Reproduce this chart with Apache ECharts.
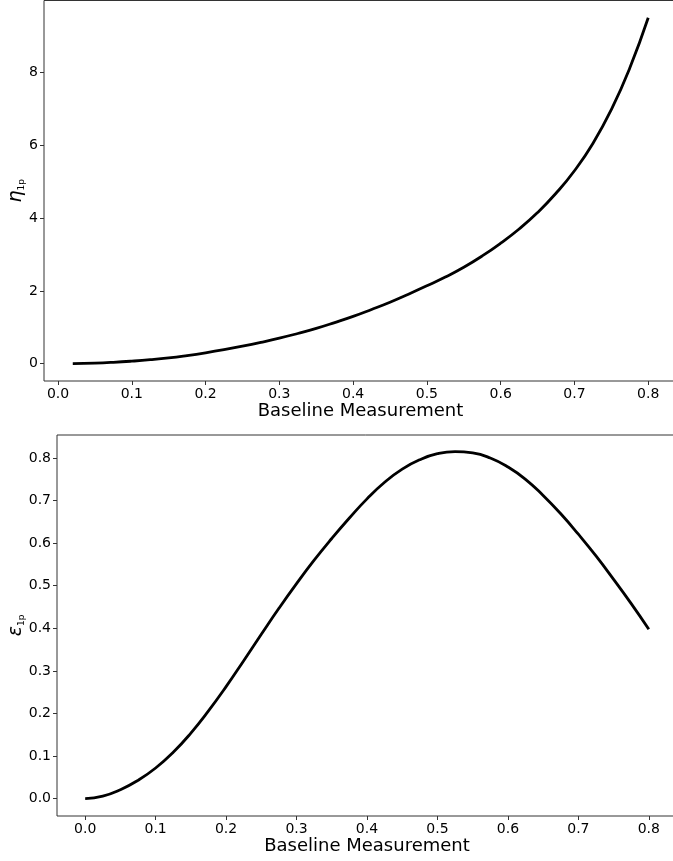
<!DOCTYPE html>
<html>
<head>
<meta charset="utf-8">
<script src="https://cdn.jsdelivr.net/npm/echarts@6/dist/echarts.min.js"></script>
<style>
  html, body { margin: 0; padding: 0; background: #fff; }
  #chart { width: 673px; height: 861px; }
</style>
</head>
<body>
<div id="chart"></div>
<script>
// Baseline measurement grid for the efficiency curve (upper panel)
const etaX = [0.020, 0.050, 0.075, 0.100, 0.125, 0.150, 0.175, 0.200, 0.225, 0.250, 0.275, 0.300,
              0.325, 0.350, 0.375, 0.400, 0.425, 0.450, 0.475, 0.500, 0.525, 0.550, 0.575, 0.600,
              0.625, 0.650, 0.675, 0.700, 0.725, 0.750, 0.775, 0.800];
const etaY = [0.000, 0.015, 0.038, 0.070, 0.110, 0.160, 0.225, 0.300, 0.385, 0.480, 0.585, 0.700,
              0.830, 0.970, 1.130, 1.300, 1.490, 1.690, 1.910, 2.140, 2.380, 2.650, 2.960, 3.310,
              3.700, 4.150, 4.680, 5.300, 6.050, 6.980, 8.120, 9.500];

// Baseline measurement grid for the epsilon curve (lower panel)
const epsX = [0.000, 0.025, 0.050, 0.075, 0.100, 0.125, 0.150, 0.175, 0.200, 0.225, 0.250, 0.275, 0.300,
              0.325, 0.350, 0.375, 0.400, 0.425, 0.450, 0.475, 0.500, 0.525, 0.550, 0.575, 0.600, 0.625,
              0.650, 0.675, 0.700, 0.725, 0.750, 0.775, 0.800];
const epsY = [0.000, 0.006, 0.021, 0.043, 0.072, 0.109, 0.154, 0.206, 0.263, 0.324, 0.386, 0.447, 0.505,
              0.560, 0.611, 0.659, 0.704, 0.743, 0.774, 0.796, 0.810, 0.815, 0.812, 0.800, 0.779, 0.750,
              0.712, 0.669, 0.621, 0.570, 0.515, 0.458, 0.398];

// Tick labels
const xTicks = [0.0, 0.1, 0.2, 0.3, 0.4, 0.5, 0.6, 0.7, 0.8];
const etaTicks = [0, 2, 4, 6, 8];
const epsTicks = [0.0, 0.1, 0.2, 0.3, 0.4, 0.5, 0.6, 0.7, 0.8];

const FONT = 'DejaVu Sans';
const SPINE = '#333';

function pairs(xs, ys) { return xs.map((x, i) => [x, ys[i]]); }

function xAxisCfg(gridIndex, min, max) {
  return {
    type: 'value', gridIndex, min, max, position: 'bottom',
    name: 'Baseline Measurement', nameLocation: 'middle', nameGap: 21, nameMoveOverlap: false,
    nameTextStyle: { fontFamily: FONT, fontSize: 18, color: '#000' },
    axisLine: { show: false, onZero: false },
    axisTick: { show: true, length: 4, lineStyle: { color: SPINE }, customValues: xTicks },
    axisLabel: { fontFamily: FONT, fontSize: 14, color: '#000', margin: 6,
                 customValues: xTicks, formatter: v => v.toFixed(1) },
    splitLine: { show: false }
  };
}

function yAxisCfg(gridIndex, min, max, ticks, fmt, name, gap) {
  return {
    type: 'value', gridIndex, min, max, position: 'left',
    name, nameLocation: 'middle', nameGap: gap, nameRotate: 90, nameMoveOverlap: false,
    nameTextStyle: {
      fontFamily: FONT, color: '#000',
      rich: {
        a: { fontFamily: FONT, fontSize: 19, fontStyle: 'italic', color: '#000' },
        b: { fontFamily: FONT, fontSize: 9, color: '#000', verticalAlign: 'bottom', padding: [10, 0, 0, 0] }
      }
    },
    axisLine: { show: false, onZero: false },
    axisTick: { show: true, length: 4, lineStyle: { color: SPINE }, customValues: ticks },
    axisLabel: { fontFamily: FONT, fontSize: 14, color: '#000', margin: 6,
                 customValues: ticks, formatter: fmt },
    splitLine: { show: false }
  };
}

const chart = echarts.init(document.getElementById('chart'), null, { renderer: 'canvas' });
chart.setOption({
  animation: false,
  backgroundColor: '#fff',
  grid: [
    { left: 44, top: 0.5, width: 633, height: 380.5, show: true, borderColor: SPINE, borderWidth: 1,
      backgroundColor: 'transparent', containLabel: false, outerBoundsMode: 'none' },
    { left: 57, top: 435, width: 620, height: 381, show: true, borderColor: SPINE, borderWidth: 1,
      backgroundColor: 'transparent', containLabel: false, outerBoundsMode: 'none' }
  ],
  xAxis: [
    xAxisCfg(0, -0.019, 0.839),
    xAxisCfg(1, -0.04, 0.84)
  ],
  yAxis: [
    yAxisCfg(0, -0.475, 9.975, etaTicks, v => String(v), '{a|η}{b|1p}', 18),
    yAxisCfg(1, -0.0407, 0.854, epsTicks, v => v.toFixed(1), '{a|ε}{b|1p}', 31)
  ],
  series: [
    { type: 'line', xAxisIndex: 0, yAxisIndex: 0, data: pairs(etaX, etaY), smooth: true,
      showSymbol: false, lineStyle: { color: '#000', width: 2.8 } },
    { type: 'line', xAxisIndex: 1, yAxisIndex: 1, data: pairs(epsX, epsY), smooth: true,
      showSymbol: false, lineStyle: { color: '#000', width: 2.8 } }
  ]
});
</script>
</body>
</html>
